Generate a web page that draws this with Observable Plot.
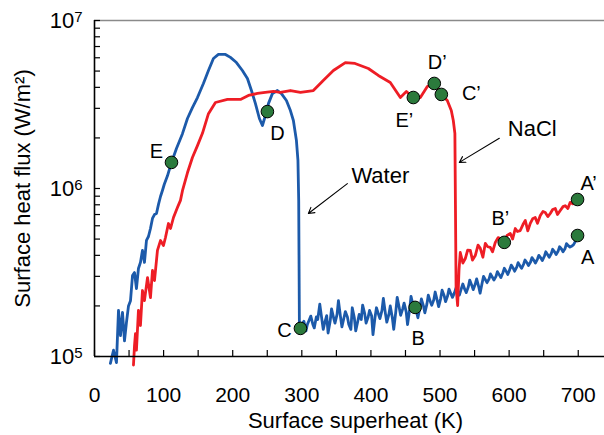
<!DOCTYPE html>
<html><head><meta charset="utf-8">
<script src="https://cdn.jsdelivr.net/npm/d3@7"></script>
<script src="https://cdn.jsdelivr.net/npm/@observablehq/plot@0.6"></script>
<style>body{margin:0;background:#fff;}</style>
</head><body><div id="chart"></div>
<script>
// ---- data: [surface superheat (K), heat flux (W/m^2)] ----
const waterBoiling = [[23,9.1e4],[27.5,1.09e5],[31.8,9.2e4],[34.7,1.88e5],[37.6,1.33e5],[40.5,1.83e5],[43.4,1.24e5],[46.3,1.6e5],[49.2,2.0e5],[52.1,2.15e5],[55,3.03e5],[57.9,3.16e5],[60.7,2.54e5],[63.6,3.34e5],[66.5,3.63e5],[69.4,4.28e5],[72.3,3.63e5],[75.2,4.91e5],[78.1,5.18e5],[81,5.78e5],[83.9,6.63e5],[86.8,7.0e5],[89.7,7.1e5],[92.6,8.04e5],[95.5,8.96e5],[98.3,9.73e5],[101,1.06e6],[105.6,1.19e6],[111.4,1.43e6],[118.6,1.73e6],[127.3,2.12e6],[134.5,2.61e6],[141.7,3.03e6],[149,3.48e6],[157.6,4.22e6],[164.9,5.04e6],[172.1,5.94e6],[179.3,6.28e6],[189.5,6.28e6],[196.7,6.03e6],[205.4,5.62e6],[214,5.04e6],[221.3,4.52e6],[227.1,3.83e6],[232.9,3.2e6],[238.6,2.61e6],[243,2.37e6],[247.3,2.72e6],[251.7,3.2e6],[257.4,3.67e6],[264.7,3.83e6],[270.5,3.67e6],[277.7,3.34e6],[283.5,2.91e6],[287.8,2.54e6],[292.2,1.93e6],[294.4,1.47e6],[295.5,8.5e5],[296.5,1.53e5]];
const waterFilm = [[298,1.47e5],[301,1.58e5],[303,1.62e5],[306,1.42e5],[308,1.55e5],[311,1.66e5],[313,1.74e5],[316,1.55e5],[318,1.48e5],[321,1.72e5],[323,1.66e5],[326,2.05e5],[328,1.78e5],[331,1.45e5],[333,1.58e5],[336,1.75e5],[338,1.38e5],[341,1.62e5],[343,1.92e5],[346,1.70e5],[348,1.58e5],[351,1.78e5],[353,2.15e5],[356,1.72e5],[358,1.50e5],[361,1.70e5],[363,1.85e5],[366,1.72e5],[368,1.55e5],[371,1.45e5],[373,1.95e5],[376,1.70e5],[378,1.42e5],[381,1.62e5],[383,1.78e5],[386,1.66e5],[388,2.02e5],[391,1.80e5],[393,1.58e5],[396,1.72e5],[398,1.88e5],[401,1.75e5],[403,1.35e5],[406,1.72e5],[408,1.95e5],[411,1.78e5],[413,1.68e5],[416,1.88e5],[418,2.22e5],[421,1.80e5],[423,1.60e5],[426,1.78e5],[428,2.00e5],[431,1.70e5],[433,1.45e5],[436,1.85e5],[438,2.25e5],[441,1.95e5],[443,1.76e5],[446,1.92e5],[448,2.08e5],[451,1.85e5],[453,1.55e5],[456,1.90e5],[458,2.28e5],[461,2.02e5],[463,1.96e5],[466,1.85e5],[468,1.70e5],[471,1.98e5],[473,2.20e5],[476,2.00e5],[478,1.82e5],[481,2.05e5],[483,2.32e5],[486,2.12e5],[488,2.02e5],[491,2.18e5],[493,2.42e5],[496,2.15e5],[498,1.98e5],[501,2.22e5],[503,2.48e5],[506,2.30e5],[508,2.12e5],[511,2.30e5],[513,2.52e5],[516,2.35e5],[518,2.25e5],[521,2.40e5],[523,2.55e5],[526,2.42e5],[528,2.32e5],[531,2.55e5],[533,2.70e5],[536,2.50e5],[538,2.40e5],[541,2.60e5],[543,2.85e5],[546,2.65e5],[548,2.50e5],[551,2.70e5],[553,2.90e5],[556,2.60e5],[558,2.38e5],[561,2.75e5],[563,3.00e5],[566,2.85e5],[568,2.75e5],[571,2.90e5],[573,3.10e5],[576,2.95e5],[578,2.85e5],[581,3.00e5],[583,3.20e5],[586,3.05e5],[588,2.95e5],[591,3.15e5],[593,3.35e5],[596,3.20e5],[598,3.08e5],[601,3.30e5],[603,3.50e5],[606,3.35e5],[608,3.22e5],[611,3.40e5],[613,3.62e5],[616,3.45e5],[618,3.35e5],[621,3.55e5],[623,3.75e5],[626,3.60e5],[628,3.48e5],[631,3.65e5],[633,3.88e5],[636,3.72e5],[638,3.60e5],[641,3.80e5],[643,4.00e5],[646,3.85e5],[648,3.72e5],[651,3.95e5],[653,4.20e5],[656,4.02e5],[658,3.90e5],[661,4.10e5],[663,4.35e5],[666,4.18e5],[668,4.05e5],[671,4.25e5],[673,4.50e5],[676,4.35e5],[678,4.20e5],[681,4.40e5],[683,4.70e5],[686,4.55e5],[688,4.48e5],[691,4.55e5],[693,4.62e5],[696,4.85e5],[699,5.25e5]];
const naclBoiling = [[56.4,8.9e4],[57.9,1.16e5],[59.3,1.37e5],[60.7,1.09e5],[63.6,1.88e5],[66.5,1.53e5],[69.4,2.47e5],[72.3,2.15e5],[76.7,2.95e5],[81,2.24e5],[83.9,3.25e5],[86.8,2.83e5],[91.1,4.28e5],[95.5,4.9e5],[99.8,4.58e5],[102.7,5.11e5],[107,6.19e5],[110,5.78e5],[114.3,6.72e5],[120,7.7e5],[124.4,8.5e5],[127.3,9.7e5],[134.5,1.24e6],[141.7,1.53e6],[149,1.8e6],[156.2,2.13e6],[164.9,2.79e6],[175,3.25e6],[192.4,3.39e6],[211.2,3.39e6],[222.7,3.58e6],[235.7,3.68e6],[247,3.73e6],[258.9,3.78e6],[269,3.73e6],[283.5,3.83e6],[298,3.73e6],[316.7,3.83e6],[331,4.4e6],[345.7,5.04e6],[363,5.62e6],[377,5.55e6],[396.3,5.18e6],[410.7,4.71e6],[428,4.28e6],[442.6,3.48e6],[451.3,3.78e6],[461.4,3.48e6],[471.5,3.48e6],[481.6,4.05e6],[491.7,4.22e6],[501.9,3.63e6],[510.5,3.34e6],[516.3,2.91e6],[519.2,2.54e6],[521.5,2.13e6],[522.3,8.0e5],[523.2,2.6e5]];
const naclFilm = [[525.5,2.01e5],[527.5,3.3e5],[529.3,4.16e5],[533,3.6e5],[536.6,3.83e5],[540,4.3e5],[543.8,4.28e5],[547,3.75e5],[551,3.99e5],[555,4.6e5],[558.3,4.4e5],[562,3.9e5],[565.5,4.71e5],[569,4.5e5],[572.7,4.46e5],[576,4.2e5],[580,4.78e5],[584,5.1e5],[587.2,5.04e5],[590,4.65e5],[593,4.78e5],[597,5.25e5],[601.7,5.4e5],[605,5.0e5],[608.9,5.78e5],[612,5.55e5],[616.1,5.62e5],[620,6.1e5],[623.4,6.45e5],[627,5.6e5],[630.6,6.2e5],[634,6.6e5],[637.8,6.72e5],[641,6.2e5],[645.1,6.9e5],[649,7.3e5],[652.3,7.2e5],[656,6.8e5],[659.5,7.1e5],[663,7.5e5],[666.8,7.6e5],[670,7.0e5],[674,7.4e5],[678,7.8e5],[681.2,7.9e5],[685,7.6e5],[688.4,8.27e5],[692,8.1e5],[695,8.4e5],[698.6,8.6e5]];
const markedPoints = [["E",111.4,1.43e6],["D",250.2,2.87e6],["C",298,1.47e5],["B",464,1.96e5],["A",699,5.25e5],["E’",461.4,3.48e6],["D’",491.7,4.22e6],["C’",501.9,3.63e6],["B’",593,4.78e5],["A’",699,8.6e5]];
const seriesNames = [["Water",413.6,1.19e6],["NaCl",633.5,2.27e6]];
const seriesArrows = [[365.9,1.07e6,309.5,7.1e5],[585.8,1.99e6,527.9,1.43e6]];
const xTicks = [0,100,200,300,400,500,600,700];
const xMinorTicks = [50,150,250,350,450,550,650];
const yTicks = [1e5,1e6,1e7];
const yMinorTicks = [2e5,3e5,4e5,5e5,6e5,7e5,8e5,9e5,2e6,3e6,4e6,5e6,6e6,7e6,8e6,9e6];
const xTitle = "Surface superheat (K)";
const yTitle = "Surface heat flux (W/m²)";

// ---- build ----
const toRows = a => a.map(([t, q]) => ({t, q}));
const water = toRows(waterBoiling.concat(waterFilm));
const nacl = toRows(naclBoiling.concat(naclFilm));
const pts = markedPoints.map(([label, t, q]) => ({label, t, q}));
const names = seriesNames.map(([label, t, q]) => ({label, t, q}));
const arrows = seriesArrows.map(([t1, q1, t2, q2]) => ({t1, q1, t2, q2}));
const supChars = {5: "⁵", 6: "⁶", 7: "⁷"};

const BLUE = "#1c5aaa", RED = "#ee1d25", GREEN = "#2b7a3c";
const FONT = "Arial, 'Liberation Sans', Helvetica, sans-serif";
const labelOffset = {"E":[-15,-11],"D":[10,22],"C":[-16,2],"B":[3,31],"A":[10,22],"E’":[-9,23],"D’":[3,-21],"C’":[30,-1],"B’":[-4,-24],"A’":[11,-16]};

const chart = Plot.plot({
  width: 604, height: 435,
  marginLeft: 94, marginRight: 0, marginTop: 20, marginBottom: 79,
  style: {fontFamily: FONT, background: "#fff", color: "#000"},
  x: {domain: [0, 738]},
  y: {type: "log", domain: [1e5, 1e7]},
  marks: [
    Plot.ruleY([1e7], {stroke: "#8a8a8a", strokeWidth: 1.5}),
    Plot.line(water, {x: "t", y: "q", stroke: BLUE, strokeWidth: 2.8, strokeLinejoin: "round"}),
    Plot.line(nacl, {x: "t", y: "q", stroke: RED, strokeWidth: 2.8, strokeLinejoin: "round"}),
    Plot.ruleX([0], {stroke: "#000", strokeWidth: 1.6}),
    Plot.ruleY([1e5], {stroke: "#000", strokeWidth: 1.6}),
    Plot.axisX({ticks: xTicks.concat(xMinorTicks), tickSize: -6, tickFormat: () => "", label: null, strokeWidth: 1.2}),
    Plot.axisX({ticks: xTicks, tickSize: 0, tickPadding: 31, fontSize: 21, label: null}),
    Plot.axisY({ticks: yTicks.concat(yMinorTicks), tickSize: -6, tickFormat: () => "", label: null, strokeWidth: 1.2}),
    Plot.axisY({ticks: yTicks, tickSize: 0, tickPadding: 12, fontSize: 22, label: null,
      tickFormat: d => "10" + supChars[Math.round(Math.log10(d))]}),
    Plot.text([xTitle], {frameAnchor: "bottom", lineAnchor: "middle", dy: 64, dx: 6, fontSize: 22, text: d => d}),
    Plot.text([yTitle], {frameAnchor: "left", textAnchor: "middle", lineAnchor: "middle", rotate: -90, dx: -72, fontSize: 22, text: d => d}),
    Plot.arrow(arrows, {x1: "t1", y1: "q1", x2: "t2", y2: "q2", stroke: "#000", strokeWidth: 1.1, headLength: 9}),
    Plot.text(names, {x: "t", y: "q", text: "label", fontSize: 22}),
    Plot.dot(pts, {x: "t", y: "q", r: 6.3, fill: GREEN, stroke: "#000", strokeWidth: 1}),
    ...pts.map(p => Plot.text([p], {x: "t", y: "q", text: "label", fontSize: 20,
      dx: labelOffset[p.label][0], dy: labelOffset[p.label][1]}))
  ]
});

// render superscript exponents on the log-axis tick labels
const supToDigit = {"⁵": "5", "⁶": "6", "⁷": "7"};
d3.select(chart).selectAll('g[aria-label="y-axis tick label"] text').each(function() {
  const s = this.textContent;
  const e = supToDigit[s.slice(-1)];
  if (e) {
    const t = d3.select(this);
    t.text("10");
    t.append("tspan").attr("dy", "-0.35em").attr("font-size", "15px").text(e);
  }
});
document.getElementById("chart").appendChild(chart);
</script>
</body></html>
